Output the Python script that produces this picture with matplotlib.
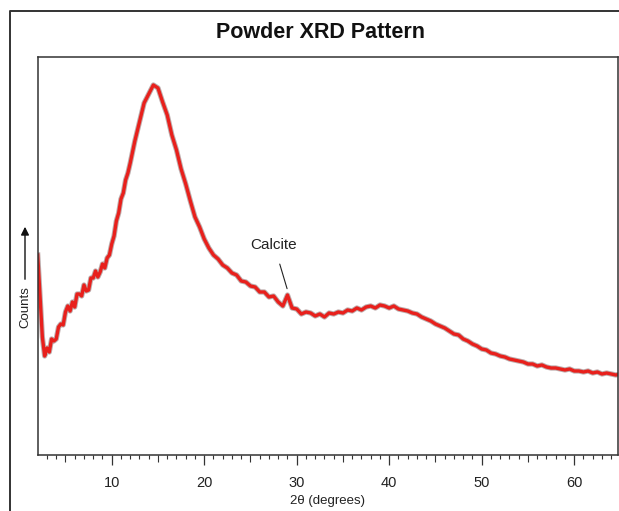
import numpy as np
import matplotlib.pyplot as plt
from matplotlib.lines import Line2D
from matplotlib.patches import FancyArrowPatch
from matplotlib.ticker import FixedLocator, NullFormatter

FONT = ["Liberation Sans", "DejaVu Sans"]
plt.rcParams["font.family"] = FONT

# 2-theta sampling (degrees): finer near the low-angle end
angle_fine = np.arange(2.0, 12.0, 0.25)
angle_coarse = np.arange(12.0, 65.5, 0.5)
two_theta = np.concatenate([angle_fine, angle_coarse])

# counts (arbitrary units)
counts_fine = [
    200, 158, 118, 99, 107, 103, 116, 114, 116, 128,
    131, 130, 143, 149, 144, 153, 148, 161, 161, 159,
    170, 164, 165, 177, 177, 184, 178, 183, 191, 187,
    197, 200, 211, 219, 234, 242, 256, 262, 275, 282,
]
counts_coarse = [
    292, 314, 333, 352, 361, 370, 367, 353, 340, 320,
    305, 286, 271, 254, 238, 228, 216, 207, 200, 196,
    190, 187, 182, 180, 174, 173, 169, 168, 163, 163,
    158, 159, 153, 149, 160, 147, 146, 141, 143, 142,
    139, 141, 138, 142, 141, 143, 142, 145, 144, 147,
    145, 148, 149, 147, 150, 149, 147, 149, 146, 145,
    144, 142, 141, 138, 136, 134, 131, 129, 127, 124,
    121, 120, 116, 114, 111, 109, 106, 105, 102, 101,
    99, 98, 96, 95, 94, 93, 91, 91, 89, 90,
    88, 87, 87, 86, 85, 86, 84, 84, 83, 84,
    82, 83, 81, 82, 81, 80, 81,
]
counts = np.array(counts_fine + counts_coarse) * 10

calcite_pos = 29.0
calcite_counts = 1650

fig = plt.figure(figsize=(6.19, 5.11), dpi=100)
ax = fig.add_axes([38 / 619, 56 / 511, (617.7 - 38) / 619, (455 - 57) / 511])

ax.plot(two_theta, counts, color="#8a6a6a", lw=3.8, alpha=0.55)
ax.plot(two_theta, counts, color="#e8201c", lw=2.4)

ax.set_xlim(2.03, 64.7)
ax.set_ylim(0, 3980)
ax.set_yticks([])

minor_locs = [v for v in range(3, 65) if v % 10 != 0]
ax.xaxis.set_major_locator(FixedLocator([10, 20, 30, 40, 50, 60]))
ax.xaxis.set_minor_locator(FixedLocator(minor_locs))
ax.xaxis.set_minor_formatter(NullFormatter())
ax.tick_params(axis="x", which="major", length=7.5, width=0.9, color="#333333",
               labelsize=10.5, pad=7.5, labelcolor="#222222")
ax.tick_params(axis="x", which="minor", length=3, width=0.8, color="#333333")
for loc, t in zip(minor_locs, ax.xaxis.get_minor_ticks()):
    if loc % 5 == 0:
        t.tick1line.set_markersize(5)

for s in ax.spines.values():
    s.set_linewidth(1.1)
    s.set_color("#333333")

ax.set_xlabel("2θ (degrees)", fontsize=9.5, labelpad=4, color="#222222")

ax.annotate("Calcite", xy=(calcite_pos, calcite_counts), xytext=(27.55, 2100),
            ha="center", va="center", fontsize=11, color="#222222",
            arrowprops=dict(arrowstyle="-", lw=0.8, color="#222222", shrinkA=7, shrinkB=1))

# y-axis "Counts" label with upward arrow
fig.text(25 / 619, 1 - 307 / 511, "Counts", rotation=90, ha="center", va="center",
         fontsize=9.5, color="#222222")
fig.patches.append(FancyArrowPatch(
    (25 / 619, 1 - 282 / 511), (25 / 619, 1 - 224 / 511), transform=fig.transFigure,
    arrowstyle="-|>", mutation_scale=12, lw=1.0, color="#111111"))

fig.text(320 / 619, 1 - 33 / 511, "Powder XRD Pattern", ha="center", va="center",
         fontsize=15.5, fontweight="bold", color="#111111")

# outer frame (left and top edges)
fig.add_artist(Line2D([10 / 619, 10 / 619, 1.0], [0.0, 1 - 11 / 511, 1 - 11 / 511],
                      transform=fig.transFigure, color="#333333", lw=1.4))

fig.savefig("out.png", dpi=100)
